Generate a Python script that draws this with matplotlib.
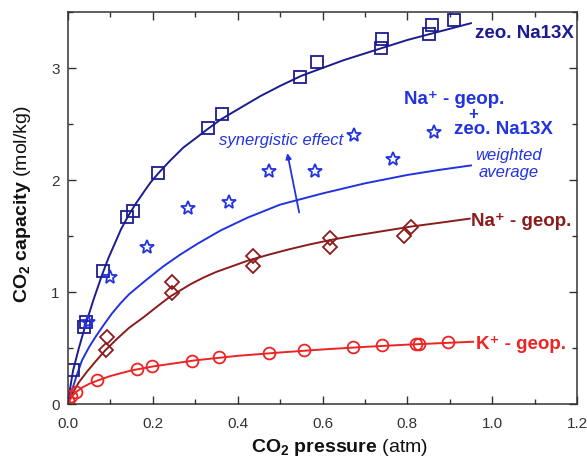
import numpy as np
import matplotlib
matplotlib.use("Agg")
import matplotlib.pyplot as plt
from matplotlib.ticker import MultipleLocator

plt.rcParams["font.family"] = ["Liberation Sans", "DejaVu Sans"]
plt.rcParams["mathtext.fontset"] = "custom"
plt.rcParams["mathtext.rm"] = "Liberation Sans"
plt.rcParams["mathtext.it"] = "Liberation Sans:italic"
plt.rcParams["mathtext.bf"] = "Liberation Sans:bold"

# measured points
zeo_p = [0.012, 0.038, 0.043, 0.083, 0.140, 0.154, 0.213, 0.331, 0.364,
         0.547, 0.587, 0.738, 0.741, 0.852, 0.857, 0.911]
zeo_q = [0.30, 0.69, 0.73, 1.19, 1.67, 1.72, 2.06, 2.46, 2.59,
         2.92, 3.05, 3.18, 3.26, 3.30, 3.38, 3.43]

mix_p = [0.047, 0.099, 0.187, 0.282, 0.379, 0.473, 0.582, 0.675, 0.767, 0.864]
mix_q = [0.73, 1.13, 1.40, 1.75, 1.80, 2.08, 2.08, 2.40, 2.19, 2.43]

na_p = [0.092, 0.090, 0.246, 0.246, 0.435, 0.435, 0.618, 0.618, 0.793, 0.809]
na_q = [0.60, 0.48, 1.09, 0.99, 1.32, 1.23, 1.48, 1.40, 1.50, 1.58]

k_p = [0.001, 0.006, 0.018, 0.069, 0.163, 0.199, 0.293, 0.355, 0.473,
       0.556, 0.672, 0.741, 0.821, 0.828, 0.897]
k_q = [0.03, 0.075, 0.11, 0.214, 0.312, 0.338, 0.383, 0.419, 0.454,
       0.481, 0.508, 0.525, 0.534, 0.536, 0.552]

# fitted curves
zeo_fit_p = [0, 0.005, 0.012, 0.025, 0.04, 0.06, 0.08, 0.095, 0.11, 0.125, 0.142,
             0.16, 0.18, 0.195, 0.213, 0.24, 0.272, 0.30, 0.331, 0.36, 0.40,
             0.454, 0.50, 0.55, 0.60, 0.65, 0.70, 0.75, 0.80, 0.85, 0.90, 0.95]
zeo_fit_q = [0, 0.14, 0.30, 0.49, 0.69, 0.93, 1.15, 1.30, 1.43, 1.56, 1.68,
             1.79, 1.90, 1.98, 2.06, 2.17, 2.29, 2.37, 2.46, 2.54, 2.63,
             2.75, 2.84, 2.93, 3.00, 3.07, 3.13, 3.19, 3.25, 3.30, 3.35, 3.40]

avg_fit_p = [0, 0.005, 0.01, 0.02, 0.033, 0.05, 0.065, 0.075, 0.085, 0.104, 0.124,
             0.144, 0.163, 0.182, 0.225, 0.265, 0.305, 0.36, 0.424, 0.50, 0.60,
             0.70, 0.80, 0.875, 0.95]
avg_fit_q = [0, 0.07, 0.13, 0.25, 0.39, 0.51, 0.60, 0.655, 0.71, 0.81, 0.90,
             0.98, 1.04, 1.10, 1.23, 1.335, 1.43, 1.55, 1.665, 1.78, 1.88,
             1.97, 2.045, 2.09, 2.13]

na_fit_p = [0, 0.005, 0.01, 0.025, 0.045, 0.065, 0.088, 0.115, 0.144, 0.18, 0.21,
            0.241, 0.289, 0.32, 0.35, 0.424, 0.47, 0.52, 0.57, 0.62, 0.67, 0.72,
            0.81, 0.88, 0.947]
na_fit_q = [0, 0.045, 0.09, 0.19, 0.29, 0.38, 0.48, 0.58, 0.68, 0.78, 0.87,
            0.96, 1.07, 1.13, 1.18, 1.28, 1.33, 1.38, 1.425, 1.465, 1.50, 1.53,
            1.585, 1.62, 1.655]

k_fit_p = [0, 0.005, 0.012, 0.02, 0.035, 0.05, 0.07, 0.10, 0.15, 0.20, 0.30,
           0.40, 0.50, 0.60, 0.70, 0.80, 0.955]
k_fit_q = [0, 0.04, 0.08, 0.11, 0.15, 0.18, 0.21, 0.25, 0.30, 0.335, 0.39,
           0.43, 0.46, 0.487, 0.51, 0.53, 0.556]

c_zeo = "#1c1c8e"
c_mix = "#2233e0"
c_na = "#8c1c1c"
c_k = "#ec2424"

fig = plt.figure(figsize=(5.87, 4.61), dpi=100)
ax = fig.add_axes([68 / 587, 57 / 461, 509 / 587, 392 / 461])

lw = 1.4
ax.plot(zeo_fit_p, zeo_fit_q, color=c_zeo, lw=lw)
ax.plot(avg_fit_p, avg_fit_q, color=c_mix, lw=lw)
ax.plot(na_fit_p, na_fit_q, color=c_na, lw=lw)
ax.plot(k_fit_p, k_fit_q, color=c_k, lw=lw)

mk = dict(ls="none", mfc="none", mew=1.3)
ax.plot(zeo_p, zeo_q, marker="s", ms=8.5, mec=c_zeo, **mk)
ax.plot(mix_p, mix_q, marker="*", ms=10.5, mec=c_mix, **mk)
ax.plot(na_p, na_q, marker="D", ms=7.5, mec=c_na, **mk)
ax.plot(k_p, k_q, marker="o", ms=8.5, mec=c_k, **mk)

# labels
big = dict(fontsize=13.5, fontweight="bold", ha="left", va="center")
ax.text(0.959, 3.31, "zeo. Na13X", color=c_zeo, **big)
ax.text(0.793, 2.72, "Na\u207a - geop.", color=c_mix, **big)
ax.text(0.956, 2.585, "+", color=c_mix, fontsize=12, fontweight="bold",
        ha="center", va="center")
ax.text(0.911, 2.45, "zeo. Na13X", color=c_mix, **big)
ax.text(0.357, 2.35, "synergistic effect", color=c_mix, fontsize=12,
        style="italic", ha="left", va="center")
ax.text(1.039, 2.14, "weighted\naverage", color=c_mix, fontsize=12,
        style="italic", ha="center", va="center", linespacing=1.15)
ax.text(0.949, 1.63, "Na\u207a - geop.", color=c_na, **big)
ax.text(0.963, 0.53, "K\u207a - geop.", color=c_k, **big)

ax.annotate("", xy=(0.517, 2.24), xytext=(0.545, 1.71),
            arrowprops=dict(arrowstyle="-|>", color=c_mix, lw=1.3,
                            mutation_scale=8, shrinkA=0, shrinkB=0))

ax.set_xlim(0, 1.2)
ax.set_ylim(0, 3.5)
ax.xaxis.set_minor_locator(MultipleLocator(0.1))
ax.yaxis.set_major_locator(MultipleLocator(1))
ax.yaxis.set_minor_locator(MultipleLocator(0.5))
ax.set_xticks([0, 0.2, 0.4, 0.6, 0.8, 1.0, 1.2])
ax.set_xticklabels(["0.0", "0.2", "0.4", "0.6", "0.8", "1.0", "1.2"])

ax.tick_params(which="both", direction="in", top=True, right=True,
               colors="#333333", labelsize=11, width=1)
ax.tick_params(which="major", length=6)
ax.tick_params(which="minor", length=3.5)
ax.tick_params(axis="x", pad=9)
ax.tick_params(axis="y", pad=6)
for s in ax.spines.values():
    s.set_color("#333333")
    s.set_linewidth(1.1)

ax.set_xlabel(r"$\mathbf{CO_2\ pressure}$ (atm)", fontsize=14, color="#111111")
ax.set_ylabel(r"$\mathbf{CO_2\ capacity}$ (mol/kg)", fontsize=14, color="#111111")
ax.xaxis.set_label_coords((340 - 68) / 509, -0.085)
ax.yaxis.set_label_coords(-0.068, 0.51)

fig.savefig("out.png", dpi=100)
